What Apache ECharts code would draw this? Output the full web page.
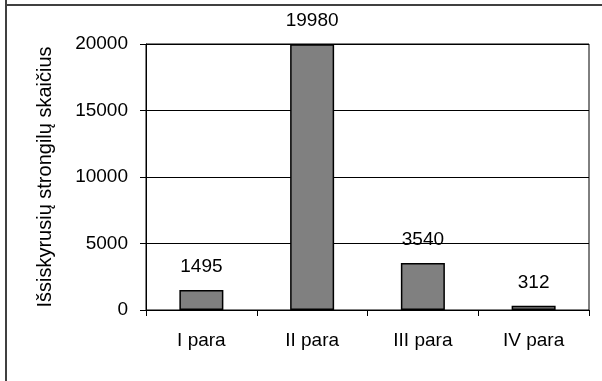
<!DOCTYPE html>
<html>
<head>
<meta charset="utf-8">
<script src="https://cdn.jsdelivr.net/npm/echarts@6/dist/echarts.min.js"></script>
<style>
html,body{margin:0;padding:0;background:#fff;}
#c{width:602px;height:381px;}
</style>
</head>
<body>
<div id="c"></div>
<script>
const categories = ['I para', 'II para', 'III para', 'IV para'];
const values = [1495, 19980, 3540, 312];
const yTicks = [0, 5000, 10000, 15000, 20000];
const yAxisTitle = 'Išsiskyrusių strongilų skaičius';

const FONT = '"Liberation Sans", Arial, sans-serif';
const chart = echarts.init(document.getElementById('c'), null, {renderer: 'canvas'});
chart.setOption({
  animation: false,
  backgroundColor: '#fff',
  textStyle: {fontFamily: FONT},
  graphic: [
    {type: 'line', shape: {x1: 6, y1: 0, x2: 6, y2: 381}, style: {stroke: '#404040', lineWidth: 2}},
    {type: 'line', shape: {x1: 5, y1: 5, x2: 602, y2: 5}, style: {stroke: '#404040', lineWidth: 2}}
  ],
  grid: {
    left: 146, right: 13, top: 44, bottom: 71,
    show: true, borderColor: '#000', borderWidth: 1, backgroundColor: 'transparent'
  },
  xAxis: {
    type: 'category',
    data: categories,
    axisLine: {lineStyle: {color: '#000', width: 1}},
    axisTick: {show: true, length: 6, lineStyle: {color: '#000'}},
    axisLabel: {color: '#000', fontSize: 19, fontFamily: FONT, margin: 21}
  },
  yAxis: {
    type: 'value',
    min: yTicks[0],
    max: yTicks[yTicks.length - 1],
    interval: yTicks[1] - yTicks[0],
    name: yAxisTitle,
    nameLocation: 'middle',
    nameRotate: 90,
    nameGap: 91,
    nameTextStyle: {color: '#000', fontSize: 20, fontFamily: FONT},
    axisLine: {show: true, lineStyle: {color: '#000', width: 1}},
    axisTick: {show: true, length: 6, lineStyle: {color: '#000'}},
    axisLabel: {color: '#000', fontSize: 19, fontFamily: FONT, margin: 18, formatter: v => String(v)},
    splitLine: {show: true, lineStyle: {color: '#000', width: 1}}
  },
  series: [{
    type: 'bar',
    data: values,
    barWidth: 44,
    itemStyle: {color: '#808080', borderColor: '#000', borderWidth: 1.5},
    label: {show: true, position: 'top', distance: 14, color: '#000', fontSize: 19, fontFamily: FONT}
  }]
});
</script>
</body>
</html>
